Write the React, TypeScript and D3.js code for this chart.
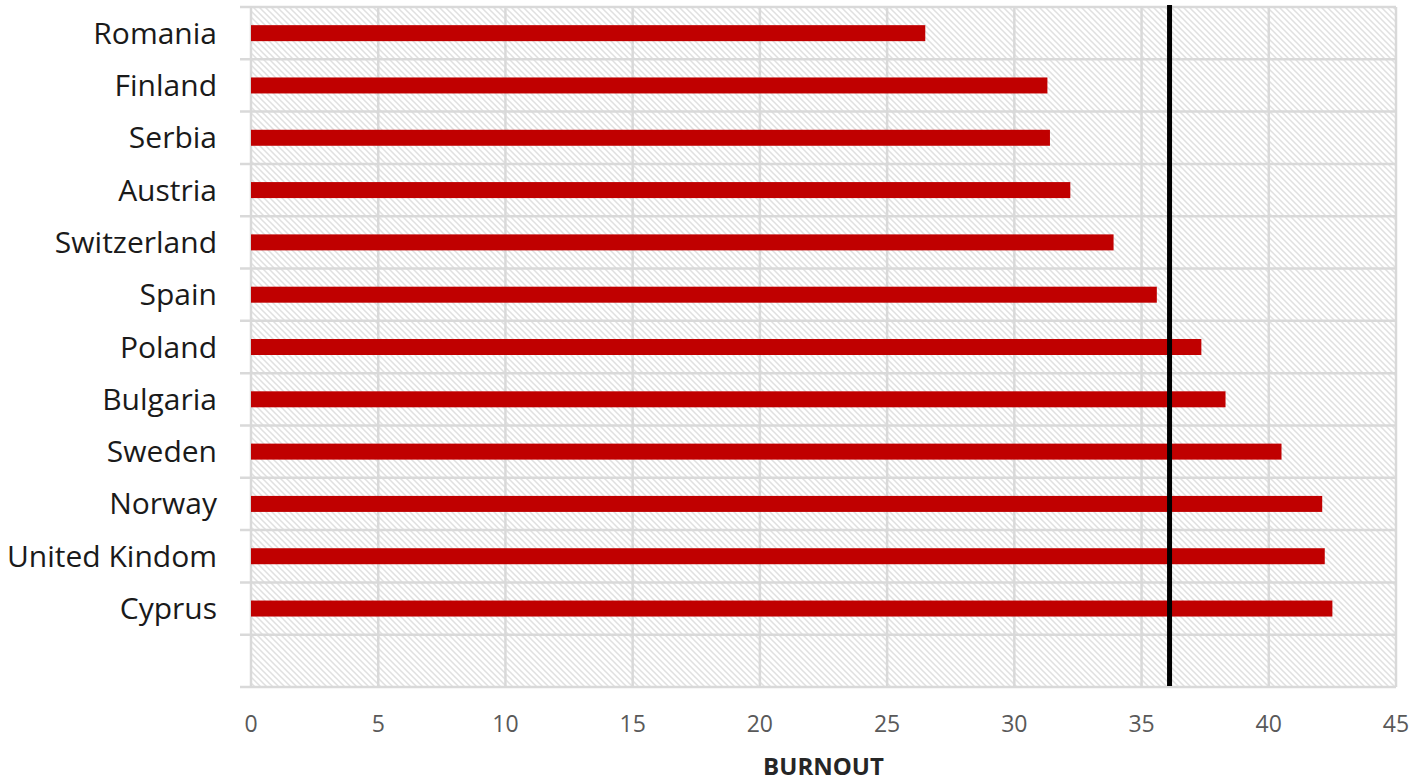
import React from "react";
import * as d3 from "d3";

// Burnout score per country (top to bottom), plus an empty trailing slot
const countries = [
  "Romania",
  "Finland",
  "Serbia",
  "Austria",
  "Switzerland",
  "Spain",
  "Poland",
  "Bulgaria",
  "Sweden",
  "Norway",
  "United Kindom",
  "Cyprus",
];
const burnout = [26.5, 31.3, 31.4, 32.2, 33.9, 35.6, 37.35, 38.3, 40.5, 42.1, 42.2, 42.5];
const averageBurnout = 36.1;
const xTicks = [0, 5, 10, 15, 20, 25, 30, 35, 40, 45];
const axisTitle = "BURNOUT";

const W = 1416;
const H = 783;
const left = 251;
const right = 1396;
const top = 7;
const bottom = 687;

const FONT = "'Open Sans', Lato, sans-serif";
const GRID = "#d9d9d9";

export default function App() {
  const slots = [...countries, ""];
  const x = d3.scaleLinear().domain([0, 45]).range([left, right]);
  const y = d3.scaleBand<string>().domain(slots).range([top, bottom]).paddingInner(0).paddingOuter(0);
  const bw = y.bandwidth();
  const barH = 16;

  const boundaries = d3.range(slots.length + 1).map((i) => top + i * bw);

  return (
    <svg
      width={W}
      height={H}
      style={{ position: "absolute", left: 0, top: 0, background: "#fff" }}
    >
      <defs>
        <pattern id="hatch" width="6" height="6" patternUnits="userSpaceOnUse">
          <rect width="6" height="6" fill="#fff" />
          <path d="M-1,-1 L7,7 M-1,5 L1,7 M5,-1 L7,1" stroke="#e0e0e0" strokeWidth="1.5" />
        </pattern>
      </defs>

      {/* plot background */}
      <rect x={left} y={top} width={right - left} height={bottom - top} fill="url(#hatch)" />

      {/* vertical gridlines */}
      {xTicks.map((t) => (
        <line key={"v" + t} x1={x(t)} x2={x(t)} y1={top} y2={bottom} stroke={GRID} strokeWidth={2.5} />
      ))}

      {/* horizontal category boundaries with tick marks */}
      {boundaries.map((b, i) => (
        <line key={"h" + i} x1={left - 11} x2={right} y1={b} y2={b} stroke={GRID} strokeWidth={2.5} />
      ))}

      {/* bars */}
      {countries.map((c, i) => (
        <rect
          key={c}
          x={x(0)}
          y={(y(c) as number) + bw / 2 - barH / 2}
          width={x(burnout[i]) - x(0)}
          height={barH}
          fill="#c00000"
        />
      ))}

      {/* average reference line */}
      <line
        x1={x(averageBurnout)}
        x2={x(averageBurnout)}
        y1={top - 2}
        y2={bottom - 1}
        stroke="#000"
        strokeWidth={5}
      />

      {/* category labels */}
      {countries.map((c) => (
        <text
          key={"l" + c}
          x={217}
          y={(y(c) as number) + bw / 2}
          dy="0.35em"
          textAnchor="end"
          fontFamily={FONT}
          fontSize={30}
          fill="#1a1a1a"
        >
          {c}
        </text>
      ))}

      {/* x tick labels */}
      {xTicks.map((t) => (
        <text
          key={"t" + t}
          x={x(t)}
          y={724}
          dy="0.35em"
          textAnchor="middle"
          fontFamily={FONT}
          fontSize={23}
          fill="#595959"
        >
          {t}
        </text>
      ))}

      {/* axis title */}
      <text
        x={(left + right) / 2}
        y={775}
        textAnchor="middle"
        fontFamily={FONT}
        fontSize={24}
        fontWeight="bold"
        fill="#262626"
      >
        {axisTitle}
      </text>
    </svg>
  );
}
